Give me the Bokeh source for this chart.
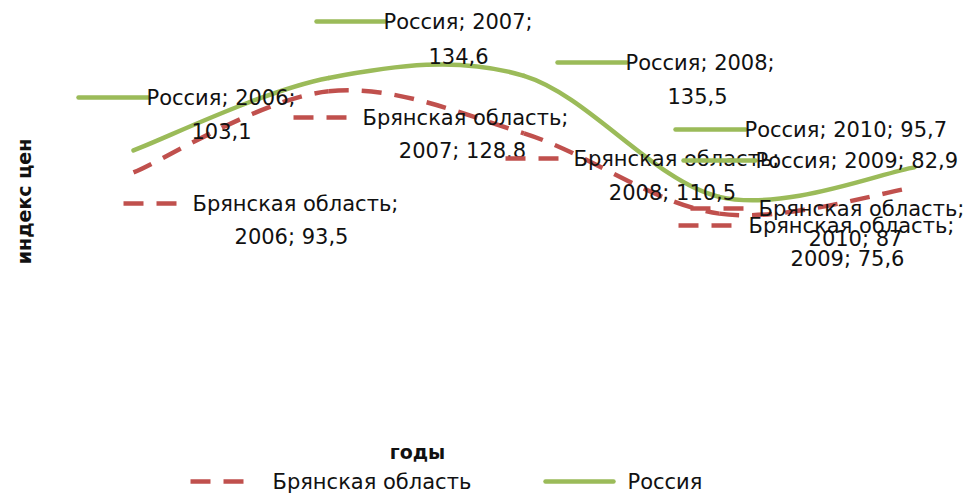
import numpy as np
from bokeh.plotting import figure
from bokeh.models import ColumnDataSource, Range1d, Label
from bokeh.embed import file_html
from bokeh.resources import INLINE
from bokeh.core.properties import value

# ---- data ----
years = [2006, 2007, 2008, 2009, 2010]
russia = [103.1, 134.6, 135.5, 82.9, 95.7]
bryansk = [93.5, 128.8, 110.5, 75.6, 87.0]
russia_val_labels = ["103,1", "134,6", "135,5", "82,9", "95,7"]
bryansk_val_labels = ["93,5", "128.8", "110,5", "75,6", "87"]
series_names = ["Брянская область", "Россия"]
x_title = "годы"
y_title = "индекс цен"

# ---- style ----
RED = "#C0504D"
GREEN = "#9BBB59"
FONT = "DejaVu Sans"
FS = "21px"
W, H = 963, 497
OFF = 0  # page offset of the figure

# pixel <-> data layout helpers (reference-pixel based layout)
RX0, DXP, RY0, DYP = 133.0, 195.25, 387.0, 2.3


def fx(rx):
    return years[0] + (rx - RX0) / DXP


def fy(ry):
    return (RY0 - ry) / DYP


p = figure(width=W, height=H, output_backend="svg", toolbar_location=None,
           title=None, x_axis_location=None, y_axis_location=None,
           x_range=Range1d(fx(OFF), fx(OFF + W)), y_range=Range1d(fy(OFF + H), fy(OFF)),
           min_border=0, outline_line_color=None)
p.xgrid.visible = False
p.ygrid.visible = False
p.background_fill_color = "white"
p.border_fill_color = "white"


def smooth_segments(xs, ys):
    P = np.column_stack([np.asarray(xs, float), np.asarray(ys, float)])
    n = len(P)
    d = {k: [] for k in ["x0", "y0", "x1", "y1", "cx0", "cy0", "cx1", "cy1"]}
    for i in range(n - 1):
        pm = P[i - 1] if i > 0 else P[i]
        pp = P[i + 2] if i + 2 < n else P[i + 1]
        c0 = P[i] + (P[i + 1] - pm) / 6.0
        c1 = P[i + 1] - (pp - P[i]) / 6.0
        d["x0"].append(P[i][0]); d["y0"].append(P[i][1])
        d["x1"].append(P[i + 1][0]); d["y1"].append(P[i + 1][1])
        d["cx0"].append(c0[0]); d["cy0"].append(c0[1])
        d["cx1"].append(c1[0]); d["cy1"].append(c1[1])
    return ColumnDataSource(d)


p.bezier(x0="x0", y0="y0", x1="x1", y1="y1", cx0="cx0", cy0="cy0", cx1="cx1", cy1="cy1",
         source=smooth_segments(years, bryansk), line_color=RED, line_width=4.5,
         line_dash="20 13")
p.bezier(x0="x0", y0="y0", x1="x1", y1="y1", cx0="cx0", cy0="cy0", cx1="cx1", cy1="cy1",
         source=smooth_segments(years, russia), line_color=GREEN, line_width=4.5,
         line_cap="round")

# ---- data labels (Excel style with legend key), layout in reference pixels ----
# (key_x0, key_x1, y1, text_left, cx2, y2)  ; cx2/y2 None for single line labels
russia_layout = [
    (78, 148, 97, 146, 221, 130),
    (316, 385, 21, 383, 458, 55),
    (557, 626, 62, 625, 697, 95),
    (683, 755, 160, 755, None, None),
    (675, 745, 129, 744, None, None),
]
bryansk_layout = [
    (123, 180, 203, 192, 291, 236),
    (293, 350, 117, 362, 462, 150),
    (505, 562, 158, 573, 672, 192),
    (678, 737, 225, 748, 847, 258),
    (690, 748, 208, 758, 855, 238),
]


def draw_labels(name, vals, layout, color, dash, break_after_year):
    for yr, val, (k0, k1, y1, tl, cx2, y2) in zip(years, vals, layout):
        kw = dict(line_color=color, line_width=4.5)
        if dash:
            kw["line_dash"] = dash
        else:
            kw["line_cap"] = "round"
        p.segment(x0=[fx(k0)], y0=[fy(y1)], x1=[fx(k1)], y1=[fy(y1)], **kw)
        if cx2 is None:
            lines = [(f"{name}; {yr}; {val}", tl, y1, "left")]
        elif break_after_year:
            lines = [(f"{name}; {yr};", tl, y1, "left"), (f"{val}", cx2, y2, "center")]
        else:
            lines = [(f"{name};", tl, y1, "left"), (f"{yr}; {val}", cx2, y2, "center")]
        for txt, x, y, al in lines:
            p.text(x=[fx(x)], y=[fy(y)], text=[txt], text_font=value(FONT),
                   text_font_size=FS, text_align=al, text_baseline="middle",
                   text_color="#111111")


draw_labels("Брянская область", bryansk_val_labels, bryansk_layout, RED, "20 13", False)
draw_labels("Россия", russia_val_labels, russia_layout, GREEN, None, True)

# ---- axis titles ----
p.add_layout(Label(x=fx(23), y=fy(201), text=y_title, angle=np.pi / 2,
                   text_font=FONT, text_font_size="19px", text_font_style="bold",
                   text_align="center", text_baseline="middle", text_color="#111111"))
p.add_layout(Label(x=fx(417), y=fy(451), text=x_title,
                   text_font=FONT, text_font_size="19px", text_font_style="bold",
                   text_align="center", text_baseline="middle", text_color="#111111"))

# ---- legend (bottom) ----
LY = 481
p.segment(x0=[fx(190)], y0=[fy(LY)], x1=[fx(248)], y1=[fy(LY)], line_color=RED,
          line_width=4.5, line_dash="20 13")
p.text(x=[fx(272)], y=[fy(LY)], text=[series_names[0]], text_font=value(FONT),
       text_font_size=FS, text_align="left", text_baseline="middle", text_color="#111111")
p.segment(x0=[fx(545)], y0=[fy(LY)], x1=[fx(613)], y1=[fy(LY)], line_color=GREEN,
          line_width=4.5, line_cap="round")
p.text(x=[fx(627)], y=[fy(LY)], text=[series_names[1]], text_font=value(FONT),
       text_font_size=FS, text_align="left", text_baseline="middle", text_color="#111111")

open("out.html", "w").write(file_html(p, INLINE))
